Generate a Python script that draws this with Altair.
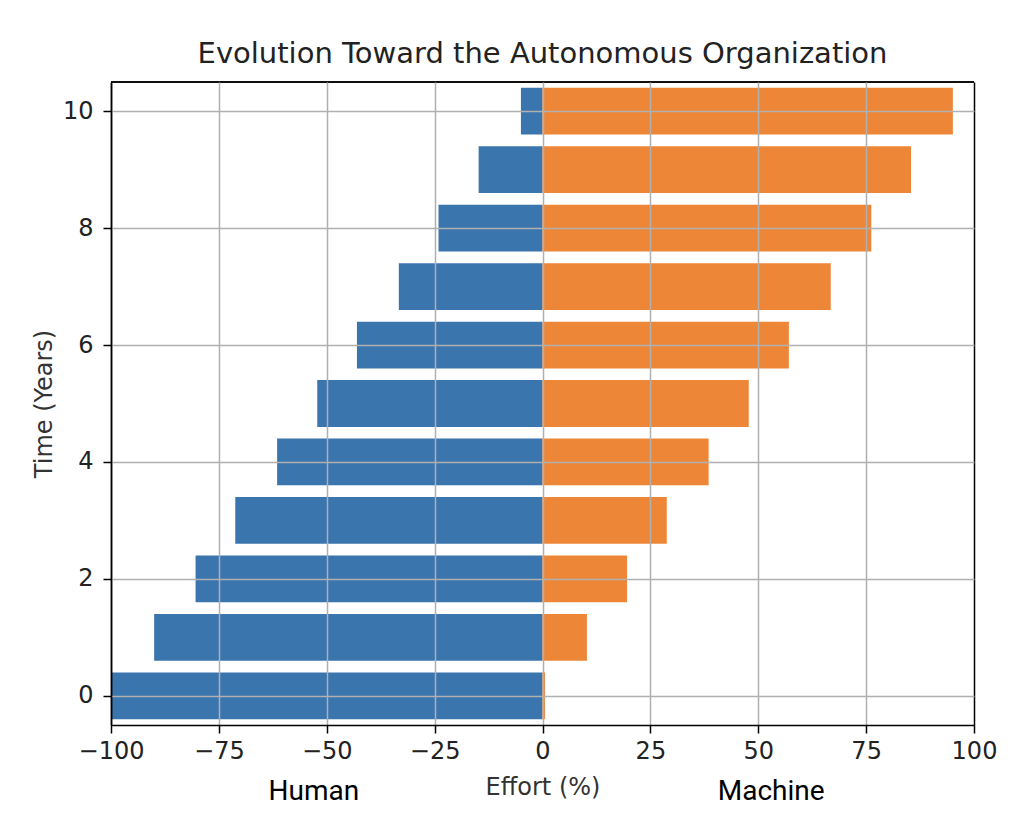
import altair as alt
import pandas as pd

years = [0, 1, 2, 3, 4, 5, 6, 7, 8, 9, 10]
human = [-99.8, -90.0, -80.4, -71.2, -61.5, -52.2, -43.0, -33.3, -24.1, -14.8, -5.0]
machine = [0.6, 10.3, 19.6, 28.8, 38.5, 47.8, 57.1, 66.8, 76.2, 85.4, 95.1]
x_ticks = [-100, -75, -50, -25, 0, 25, 50, 75, 100]
y_ticks = [0, 2, 4, 6, 8, 10]
side_labels = ["Human", "Machine"]
side_pos = [-53, 53]

rows = []
for t, h, m in zip(years, human, machine):
    rows.append({"t": t, "side": "Human", "v": h})
    rows.append({"t": t, "side": "Machine", "v": m})
df = pd.DataFrame(rows)
lab = pd.DataFrame({"label": side_labels, "x": side_pos})

W, H = 863, 643

xscale = alt.Scale(domain=[-100, 100], nice=False, zero=False)
yscale = alt.Scale(domain=[-0.5, 10.5], nice=False, zero=False)

bars = alt.Chart(df).transform_calculate(
    y0="datum.t - 0.4", y1="datum.t + 0.4", z="0"
).mark_bar(stroke=None).encode(
    x=alt.X("v:Q", scale=xscale,
            axis=alt.Axis(values=x_ticks, title="Effort (%)", grid=True, zindex=1,
                          gridColor=alt.condition("abs(datum.value) == 100",
                                                  alt.value("black"), alt.value("#b0b0b0")),
                          gridWidth=1.5,
                          domainColor="black", domainWidth=1.5,
                          tickColor="black", tickSize=8, tickWidth=1.5,
                          labelFont="DejaVu Sans", labelFontSize=24, labelColor="#222",
                          labelPadding=6, labelFlush=False,
                          titleFont="DejaVu Sans", titleFontSize=24, titleColor="#333",
                          titleFontWeight="normal", titleY=69, titleBaseline="alphabetic")),
    x2=alt.X2("z:Q"),
    y=alt.Y("y0:Q", scale=yscale,
            axis=alt.Axis(values=y_ticks, title="Time (Years)", grid=True, zindex=1,
                          gridColor="#b0b0b0", gridWidth=1.5,
                          domainColor="black", domainWidth=1.5,
                          tickColor="black", tickSize=8, tickWidth=1.5,
                          labelFont="DejaVu Sans", labelFontSize=24, labelColor="#222",
                          labelPadding=10,
                          titleFont="DejaVu Sans", titleFontSize=24, titleColor="#333",
                          titleFontWeight="normal", titleX=-60, titleBaseline="alphabetic")),
    y2=alt.Y2("y1:Q"),
    color=alt.Color("side:N", scale=alt.Scale(domain=["Human", "Machine"],
                                              range=["#3a75ae", "#ee8637"]), legend=None),
)

labels = alt.Chart(lab).mark_text(
    font="Roboto", fontSize=28, color="black", baseline="alphabetic", align="center"
).encode(
    x=alt.X("x:Q", scale=xscale),
    y=alt.value(H + 75),
    text="label:N",
)

top_spine = alt.Chart(lab).mark_rule(color="black", strokeWidth=1.5).encode(
    x=alt.value(0), x2=alt.value(W), y=alt.value(0)
)

chart = alt.layer(bars, labels, top_spine).properties(
    width=W, height=H,
    title=alt.TitleParams("Evolution Toward the Autonomous Organization",
                          font="DejaVu Sans", fontSize=29, fontWeight="normal",
                          color="#222", anchor="middle", frame="group",
                          baseline="alphabetic", offset=-11),
    padding={"left": 103, "top": 74, "right": 30, "bottom": 90},
    autosize=alt.AutoSizeParams(type="none"),
).configure_view(stroke="black", strokeWidth=1.5).configure(background="white")

chart.save("out.html", embed_options={"renderer": "svg", "actions": False})
